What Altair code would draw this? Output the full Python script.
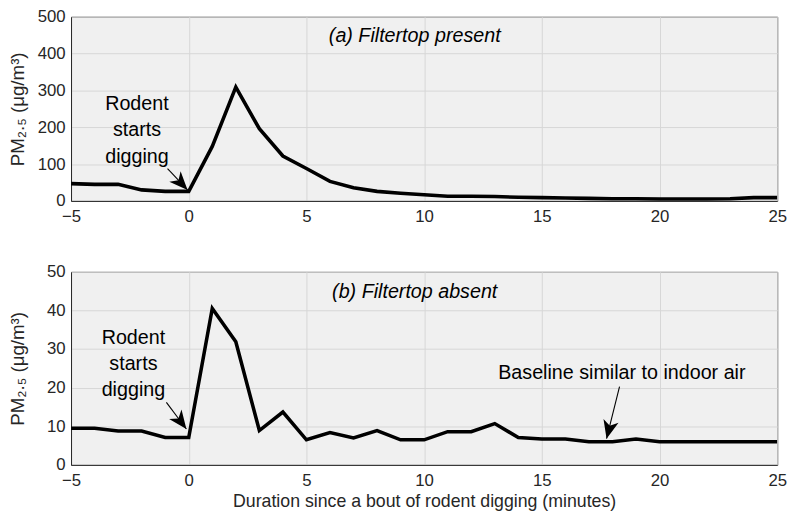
import math
import altair as alt
import pandas as pd

# ---------------- data ----------------
minutes = list(range(-5, 26))
pm_present = [47, 45, 45, 30, 26, 26, 148, 309, 196, 122, 88, 53, 36, 26, 21, 17,
              13, 13, 12, 10, 9, 8, 7, 6, 6, 5, 5, 5, 6, 9, 9]
pm_absent = [9.5, 9.5, 8.8, 8.8, 7.1, 7.1, 40.5, 31.9, 8.9, 13.7, 6.5, 8.4, 7.0, 8.9,
             6.5, 6.5, 8.6, 8.6, 10.7, 7.1, 6.7, 6.7, 6.0, 6.0, 6.7, 6.0, 6.0, 6.0,
             6.0, 6.0, 6.0]

x_ticks = [-5, 0, 5, 10, 15, 20, 25]
y_ticks_a = [0, 100, 200, 300, 400, 500]
y_ticks_b = [0, 10, 20, 30, 40, 50]

panel_titles = ["(a) Filtertop present", "(b) Filtertop absent"]
rodent_label = "Rodent\nstarts\ndigging"
baseline_label = "Baseline similar to indoor air"
x_title = "Duration since a bout of rodent digging (minutes)"
y_title = "PM\u2082.\u2085 (\u03bcg/m\u00b3)"

# annotation anchors (data units)
title_pos_a = (9.6, 448)
title_pos_b = (9.6, 44.8)
rodent_pos_a = (-2.2, 262)
rodent_pos_b = (-2.35, 32.9)
baseline_pos = (18.4, 23.7)
arrow_a = [(-0.9, 88, -0.05, 30)]
arrow_b = [(-0.95, 16.2, -0.1, 9.3), (18.3, 20.3, 17.75, 6.8)]

W = 717
HA = 187
HB = 196
FONT = "Liberation Sans, Arial, Helvetica, sans-serif"
AX = "#262626"
ARROW_SHAPE = "M0,0L-0.42,1L0,0.72L0.42,1Z"


def panel(values, ymax, yticks, height, title_text, title_pos, rodent_pos, arrows,
          show_xtitle, extra=None):
    df = pd.DataFrame({"t": minutes, "pm": values})
    xs = alt.Scale(domain=[-5, 25], nice=False, zero=False)
    ys = alt.Scale(domain=[0, ymax], nice=False)
    xkw = dict(values=x_ticks, labelFontSize=17, labelPadding=8, titleFontSize=18,
               titleFontWeight="normal", titlePadding=4, ticks=False,
               gridColor="#d6d6d6", domainColor=AX, labelColor=AX,
               titleColor=AX, labelFont=FONT, titleFont=FONT,
               labelFlush=False, labelOverlap=False)
    if show_xtitle:
        xaxis = alt.Axis(title=x_title, **xkw)
    else:
        xaxis = alt.Axis(title=None, **xkw)
    yaxis = alt.Axis(values=yticks, title=y_title, labelFontSize=17, labelPadding=6,
                     titleFontSize=19, titleFontWeight="normal", titlePadding=2,
                     ticks=False, gridColor="#d6d6d6", domainColor=AX,
                     labelColor=AX, titleColor=AX, labelFont=FONT, titleFont=FONT,
                     minExtent=42, maxExtent=42, labelFlush=False, labelOverlap=False)

    def X(f):
        return alt.X(f, scale=xs, axis=xaxis)

    def Y(f):
        return alt.Y(f, scale=ys, axis=yaxis)

    line = alt.Chart(df).mark_line(color="black", strokeWidth=3.6, strokeJoin="miter",
                                   clip=True).encode(x=X("t:Q"), y=Y("pm:Q"))
    tdf = pd.DataFrame({"x": [title_pos[0]], "y": [title_pos[1]], "s": [title_text]})
    title = alt.Chart(tdf).mark_text(fontSize=20, fontStyle="italic", font=FONT,
                                     color="black").encode(
        x=X("x:Q"), y=Y("y:Q"), text="s:N")
    rdf = pd.DataFrame({"x": [rodent_pos[0]], "y": [rodent_pos[1]], "s": [rodent_label]})
    rodent = alt.Chart(rdf).mark_text(fontSize=20, font=FONT, color="black",
                                      lineBreak="\n", lineHeight=26.5).encode(
        x=X("x:Q"), y=Y("y:Q"), text="s:N")
    sx = W / 30.0
    sy = height / float(ymax)
    rows = []
    for (x0, y0, x1, y1) in arrows:
        dx = (x1 - x0) * sx
        dy = -(y1 - y0) * sy
        ang = math.degrees(math.atan2(dx, -dy)) % 360
        rows.append({"x0": x0, "y0": y0, "x1": x1, "y1": y1, "ang": ang})
    adf = pd.DataFrame(rows)
    shaft = alt.Chart(adf).mark_rule(color="black", strokeWidth=1.1).encode(
        x=X("x0:Q"), y=Y("y0:Q"), x2="x1:Q", y2="y1:Q")
    head = alt.Chart(adf).mark_point(shape=ARROW_SHAPE, filled=True, size=1400,
                                     color="black", opacity=1, strokeWidth=0).encode(
        x=X("x1:Q"), y=Y("y1:Q"), angle=alt.Angle("ang:Q", scale=None))
    layers = [line, title, rodent, shaft, head]
    if extra is not None:
        edf = pd.DataFrame({"x": [extra[0][0]], "y": [extra[0][1]], "s": [extra[1]]})
        layers.append(alt.Chart(edf).mark_text(fontSize=20, font=FONT, color="black").encode(
            x=X("x:Q"), y=Y("y:Q"), text="s:N"))
    return alt.layer(*layers).properties(width=W, height=height)


a = panel(pm_present, 500, y_ticks_a, HA, panel_titles[0], title_pos_a, rodent_pos_a,
          arrow_a, False)
b = panel(pm_absent, 50, y_ticks_b, HB, panel_titles[1], title_pos_b, rodent_pos_b,
          arrow_b, True, extra=(baseline_pos, baseline_label))

chart = alt.vconcat(a, b, spacing=37).properties(
    padding={"left": 0, "top": -5, "right": 5, "bottom": 2},
    background="white",
).configure_view(fill="#f0f0f0", stroke=AX, strokeWidth=1)

chart.save("out.html", embed_options={"renderer": "svg", "actions": False})
